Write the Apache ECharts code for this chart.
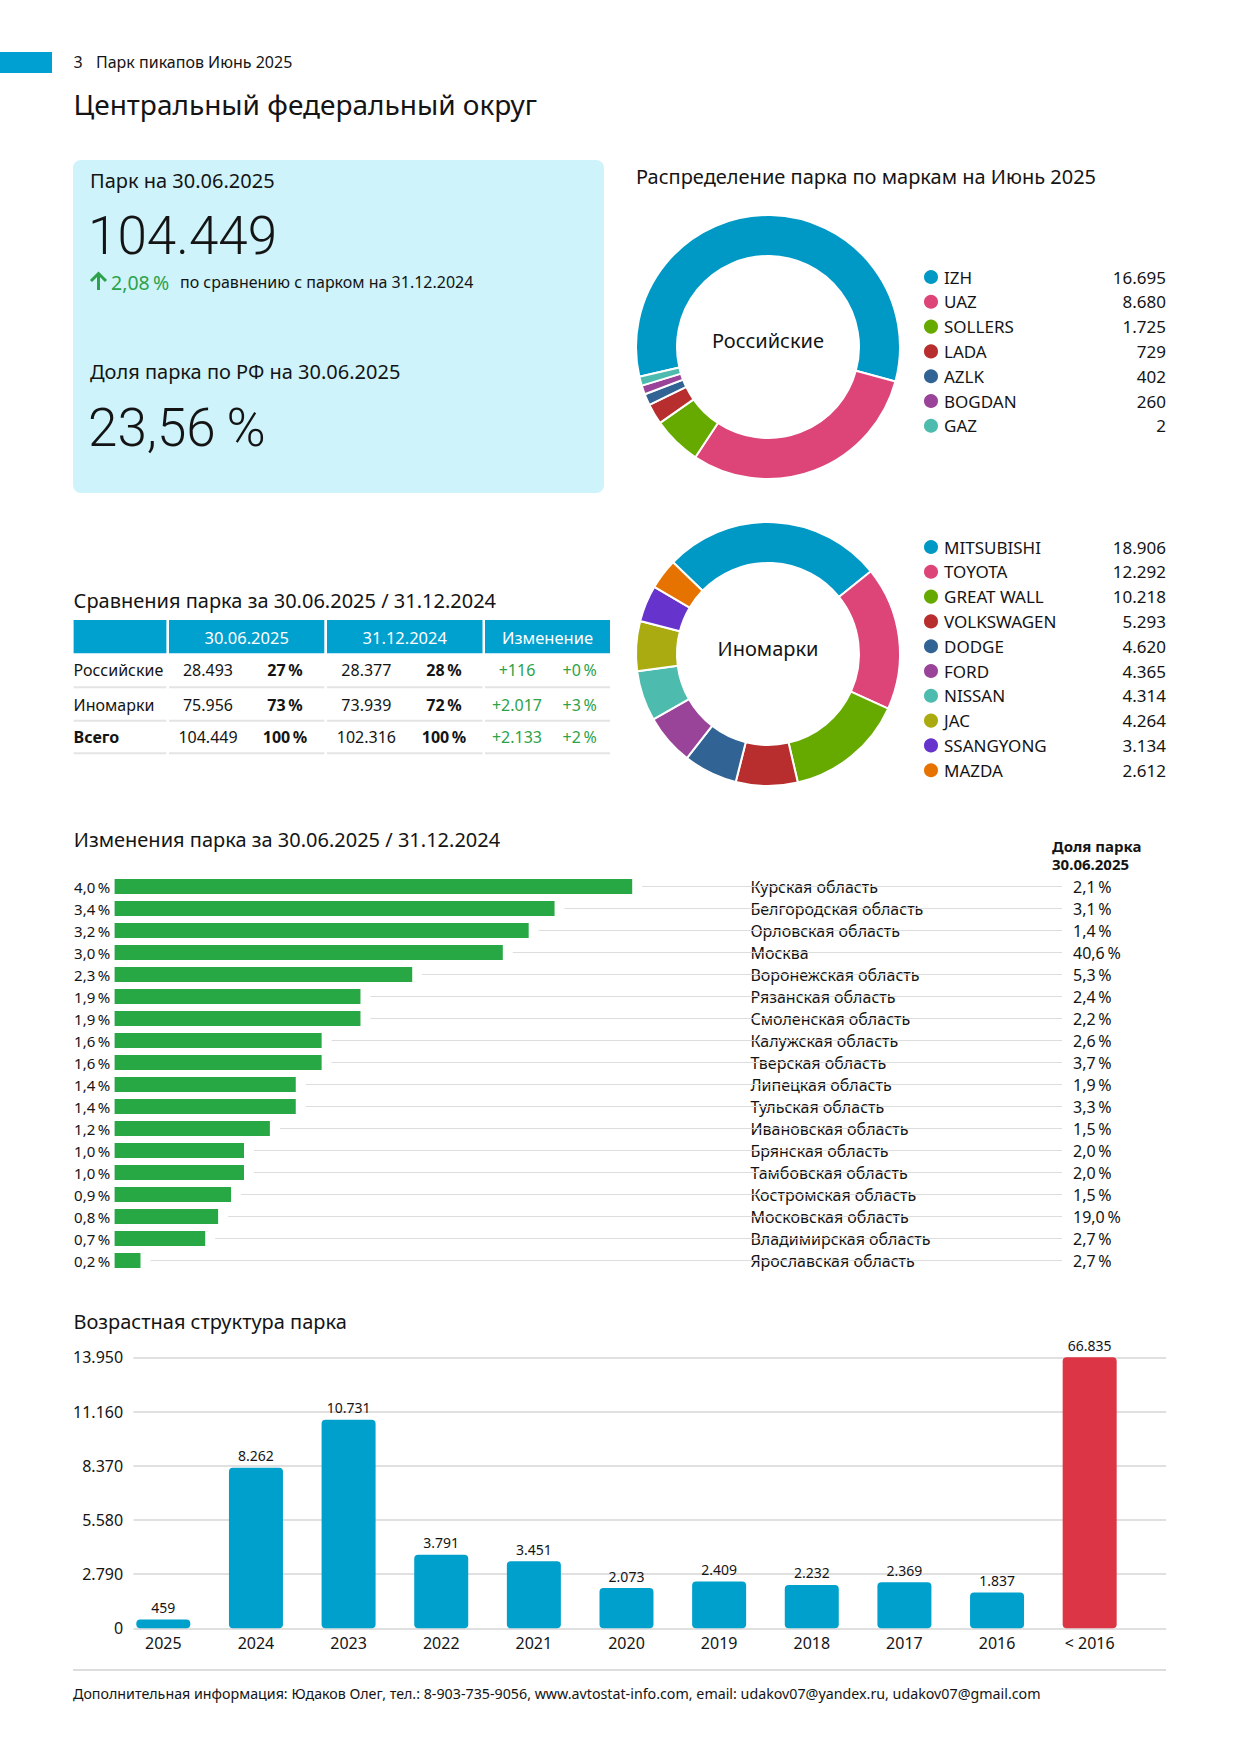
<!DOCTYPE html>
<html><head><meta charset="utf-8">
<script src="https://cdn.jsdelivr.net/npm/echarts@6/dist/echarts.min.js"></script>
<style>html,body{margin:0;padding:0;background:#fff}#c{width:1240px;height:1755px}</style>
</head><body><div id="c"></div>
<script>
// ---------------- DATA ----------------
const pageNo = '3';
const pageHeader = 'Парк пикапов Июнь 2025';
const pageTitle = 'Центральный федеральный округ';
const parkLabel = 'Парк на 30.06.2025';
const parkTotal = 104449;
const parkGrowthPct = 2.08;
const parkGrowthText = 'по сравнению с парком на 31.12.2024';
const rfShareLabel = 'Доля парка по РФ на 30.06.2025';
const rfSharePct = 23.56;

const brandTitle = 'Распределение парка по маркам на Июнь 2025';
const ruGroupName = 'Российские';
const ruBrands = ['IZH', 'UAZ', 'SOLLERS', 'LADA', 'AZLK', 'BOGDAN', 'GAZ'];
const ruValues = [16695, 8680, 1725, 729, 402, 260, 2];
const foreignGroupName = 'Иномарки';
const foreignBrands = ['MITSUBISHI', 'TOYOTA', 'GREAT WALL', 'VOLKSWAGEN', 'DODGE', 'FORD', 'NISSAN', 'JAC', 'SSANGYONG', 'MAZDA'];
const foreignValues = [18906, 12292, 10218, 5293, 4620, 4365, 4314, 4264, 3134, 2612];

const tableTitle = 'Сравнения парка за 30.06.2025 / 31.12.2024';
const tableHeaders = ['30.06.2025', '31.12.2024', 'Изменение'];
const tableRows = ['Российские', 'Иномарки', 'Всего'];
const park2025 = [28493, 75956, 104449];
const share2025 = [27, 73, 100];
const park2024 = [28377, 73939, 102316];
const share2024 = [28, 72, 100];
const diffAbs = [116, 2017, 2133];
const diffPct = [0, 3, 2];

const changeTitle = 'Изменения парка за 30.06.2025 / 31.12.2024';
const shareHeader = ['Доля парка', '30.06.2025'];
const regions = ['Курская область', 'Белгородская область', 'Орловская область', 'Москва', 'Воронежская область', 'Рязанская область', 'Смоленская область', 'Калужская область', 'Тверская область', 'Липецкая область', 'Тульская область', 'Ивановская область', 'Брянская область', 'Тамбовская область', 'Костромская область', 'Московская область', 'Владимирская область', 'Ярославская область'];
const regionChange = [4.0, 3.4, 3.2, 3.0, 2.3, 1.9, 1.9, 1.6, 1.6, 1.4, 1.4, 1.2, 1.0, 1.0, 0.9, 0.8, 0.7, 0.2];
const regionShare = [2.1, 3.1, 1.4, 40.6, 5.3, 2.4, 2.2, 2.6, 3.7, 1.9, 3.3, 1.5, 2.0, 2.0, 1.5, 19.0, 2.7, 2.7];

const ageTitle = 'Возрастная структура парка';
const ageYears = ['2025', '2024', '2023', '2022', '2021', '2020', '2019', '2018', '2017', '2016', '< 2016'];
const ageValues = [459, 8262, 10731, 3791, 3451, 2073, 2409, 2232, 2369, 1837, 66835];
const ageAxisMax = 13950;
const ageAxisStep = 2790;

const footerText = 'Дополнительная информация: Юдаков Олег, тел.: 8-903-735-9056, www.avtostat-info.com, email: udakov07@yandex.ru, udakov07@gmail.com';

// ---------------- HELPERS ----------------
const FONT = "'Noto Sans', 'DejaVu Sans', sans-serif";
const LIGHT = "Roboto, 'Open Sans', sans-serif";
const INK = '#141414';
const GREEN = '#2ca24a';
const BLUE = '#00a0cf';
const palette = ['#0099c6', '#dd4477', '#66aa00', '#b82e2e', '#316395', '#994499', '#4dbbad', '#aaaa11', '#6633cc', '#e67300'];
const fmtInt = n => String(n).replace(/\B(?=(\d{3})+(?!\d))/g, '.');
const fmtDec = (v, d) => v.toFixed(d).replace('.', ',');
const PCT = '\u2009%';

function T(text, x, y, size, o) {
  o = o || {};
  return {
    type: 'text', x: x, y: y, silent: true, z: 10,
    style: {
      text: text, fill: o.fill || INK, fontSize: size,
      fontFamily: o.family || FONT, fontWeight: o.weight || 'normal',
      textAlign: o.align || 'left', align: o.align || 'left',
      textVerticalAlign: 'middle', verticalAlign: 'middle'
    }
  };
}

const g = [];
// header
g.push({ type: 'rect', shape: { x: 0, y: 52, width: 52, height: 21 }, style: { fill: '#00a0d2' } });
g.push(T(pageNo, 73.5, 62, 16));
g.push(T(pageHeader, 96, 62, 16));
g.push(T(pageTitle, 73.5, 104, 28));

// KPI box
g.push({ type: 'rect', shape: { x: 73, y: 160, width: 531, height: 333, r: 8 }, style: { fill: '#cef3fb' } });
g.push(T(parkLabel, 90, 180, 20));
g.push(T(fmtInt(parkTotal), 88, 236, 53, { family: LIGHT, weight: 300 }));
// growth arrow (shape)
g.push({ type: 'polyline', shape: { points: [[91, 281], [98.5, 273.5], [106, 281]] }, style: { stroke: GREEN, lineWidth: 3, fill: null }, silent: true });
g.push({ type: 'line', shape: { x1: 98.5, y1: 275, x2: 98.5, y2: 290 }, style: { stroke: GREEN, lineWidth: 3 }, silent: true });
g.push(T(fmtDec(parkGrowthPct, 2) + PCT, 111, 282, 19.5, { fill: GREEN }));
g.push(T(parkGrowthText, 180, 282, 16));
g.push(T(rfShareLabel, 90, 371, 20));
g.push(T(fmtDec(rfSharePct, 2) + PCT, 88, 428, 53, { family: LIGHT, weight: 300 }));

// brand distribution
g.push(T(brandTitle, 636, 176, 20));
g.push(T(ruGroupName, 768, 340, 20, { align: 'center' }));
g.push(T(foreignGroupName, 768, 648, 20, { align: 'center' }));

// table
g.push(T(tableTitle, 73.6, 600, 20));
const colSpans = [[73.6, 166.4], [169, 324.3], [327, 482.5], [485, 610]];
colSpans.forEach((c, i) => {
  g.push({ type: 'rect', shape: { x: c[0], y: 620, width: c[1] - c[0], height: 33.3 }, style: { fill: BLUE } });
  if (i > 0) g.push(T(tableHeaders[i - 1], (c[0] + c[1]) / 2, 637, 16.5, { fill: '#fff', align: 'center' }));
});
const rowY = [670, 705, 737];
const lineY = [687.3, 720.7, 753.3];
const valX = [208, 285, 366.4, 444, 517, 579.6];
tableRows.forEach((name, i) => {
  const bold = i === tableRows.length - 1;
  g.push(T(name, 73.6, rowY[i], 16, { weight: bold ? 'bold' : 'normal' }));
  const vals = [fmtInt(park2025[i]), share2025[i] + PCT, fmtInt(park2024[i]), share2024[i] + PCT,
    '+' + fmtInt(diffAbs[i]), '+' + diffPct[i] + PCT];
  vals.forEach((v, j) => {
    const o = { align: 'center' };
    if (j === 1 || j === 3) o.weight = 'bold';
    if (j >= 4) o.fill = GREEN;
    g.push(T(v, valX[j], rowY[i], 16, o));
  });
  colSpans.forEach(c => g.push({ type: 'line', shape: { x1: c[0], y1: lineY[i], x2: c[1], y2: lineY[i] }, style: { stroke: '#e4e4e4', lineWidth: 2 } }));
});

// change chart headers
g.push(T(changeTitle, 73.8, 839, 20));
g.push(T(shareHeader[0], 1052, 846, 15, { weight: 'bold' }));
g.push(T(shareHeader[1], 1052, 863.5, 15, { weight: 'bold' }));

// age chart
g.push(T(ageTitle, 73.4, 1321, 20));

// footer
g.push({ type: 'line', shape: { x1: 73, y1: 1670, x2: 1166, y2: 1670 }, style: { stroke: '#d2d2d2', lineWidth: 1.5 } });
g.push(T(footerText, 73, 1693, 14.25));

// ---------------- CHART ----------------
const chart = echarts.init(document.getElementById('c'), null, { renderer: 'svg', width: 1240, height: 1755 });
const CH_MAX = (1062 - 114.6) / 129.4;

function legendFor(names, values, top) {
  return {
    orient: 'vertical', left: 922, top: top, padding: 0, itemWidth: 16, itemHeight: 16, itemGap: 6.8,
    icon: 'circle', data: names, selectedMode: false,
    formatter: name => '{n|' + name + '}{v|' + fmtInt(values[names.indexOf(name)]) + '}',
    textStyle: {
      color: INK, fontFamily: FONT, fontSize: 17, lineHeight: 16,
      rich: {
        n: { width: 152, fontSize: 17, fontFamily: FONT, color: INK, lineHeight: 16 },
        v: { width: 70, align: 'right', fontSize: 17, fontFamily: FONT, color: INK, lineHeight: 16 }
      }
    }
  };
}

const option = {
  animation: false,
  backgroundColor: '#fff',
  textStyle: { fontFamily: FONT },
  graphic: { elements: g },
  legend: [legendFor(ruBrands, ruValues, 268), legendFor(foreignBrands, foreignValues, 538)],
  grid: [
    { left: 114.6, top: 875.5, width: 1062 - 114.6, height: 396 },
    { left: 117, top: 1357.3, width: 1019, height: 271 },
    { left: 133.5, top: 1357.3, width: 1032.7, height: 271 }
  ],
  xAxis: [
    { gridIndex: 0, type: 'value', min: 0, max: CH_MAX, show: false },
    {
      gridIndex: 1, type: 'category', data: ageYears,
      axisLine: { show: false }, axisTick: { show: false },
      axisLabel: { fontSize: 16, color: INK, margin: 7, fontFamily: FONT, interval: 0 }
    },
    { gridIndex: 2, type: 'value', show: false }
  ],
  yAxis: [
    {
      gridIndex: 0, type: 'category', data: regions, inverse: true,
      axisLine: { show: false }, axisTick: { show: false },
      axisLabel: { fontSize: 15, color: INK, margin: 4.4, fontFamily: FONT, interval: 0,
        formatter: (v, i) => fmtDec(regionChange[i], 1) + PCT }
    },
    {
      gridIndex: 0, type: 'category', data: regions, inverse: true, position: 'right',
      axisLine: { show: false }, axisTick: { show: false },
      axisLabel: { fontSize: 16, color: INK, margin: 750.4 - 1062, align: 'left', fontFamily: FONT, interval: 0 }
    },
    {
      gridIndex: 0, type: 'category', data: regions, inverse: true, position: 'right',
      axisLine: { show: false }, axisTick: { show: false },
      axisLabel: { fontSize: 16, color: INK, margin: 11, align: 'left', fontFamily: FONT, interval: 0,
        formatter: (v, i) => fmtDec(regionShare[i], 1) + PCT }
    },
    { gridIndex: 1, type: 'value', min: 0, max: ageAxisMax, interval: ageAxisStep, show: false, splitLine: { show: false } },
    {
      gridIndex: 2, type: 'value', min: 0, max: ageAxisMax, interval: ageAxisStep,
      axisLine: { show: false }, axisTick: { show: false },
      axisLabel: { fontSize: 16, color: INK, margin: 10.4, fontFamily: FONT, formatter: v => fmtInt(v) },
      splitLine: { lineStyle: { color: '#d6d6d6', width: 1.5 } }
    }
  ],
  series: [
    {
      type: 'pie', name: ruGroupName, center: [768, 347], radius: [91, 132], startAngle: 193, minAngle: 4,
      clockwise: true, label: { show: false }, labelLine: { show: false }, silent: true,
      itemStyle: { borderColor: '#fff', borderWidth: 2 },
      data: ruBrands.map((n, i) => ({ name: n, value: ruValues[i], itemStyle: { color: palette[i] } }))
    },
    {
      type: 'pie', name: foreignGroupName, center: [768, 654], radius: [91, 132], startAngle: 136,
      clockwise: true, label: { show: false }, labelLine: { show: false }, silent: true,
      itemStyle: { borderColor: '#fff', borderWidth: 2 },
      data: foreignBrands.map((n, i) => ({ name: n, value: foreignValues[i], itemStyle: { color: palette[i] } }))
    },
    {
      type: 'custom', xAxisIndex: 0, yAxisIndex: 0, silent: true, z: 1,
      data: regionChange.map((v, i) => [v, i]),
      renderItem: (params, api) => {
        const p0 = api.coord([api.value(0), api.value(1)]);
        const p1 = api.coord([CH_MAX, api.value(1)]);
        return { type: 'line', shape: { x1: p0[0] + 10, y1: p0[1], x2: p1[0], y2: p1[1] }, style: { stroke: '#dddddd', lineWidth: 1.2 } };
      }
    },
    {
      type: 'bar', xAxisIndex: 0, yAxisIndex: 0, data: regionChange, barWidth: 15, silent: true, z: 3,
      itemStyle: { color: '#28a745' }
    },
    {
      type: 'bar', xAxisIndex: 1, yAxisIndex: 3, barWidth: 54, silent: true,
      data: ageValues.map((v, i) => ({ value: v, itemStyle: { color: i === ageValues.length - 1 ? '#dc3545' : '#00a0cc' } })),
      itemStyle: { borderRadius: 4 },
      label: { show: true, position: 'top', distance: 5, fontSize: 14, color: INK, fontFamily: FONT, formatter: p => fmtInt(p.value) }
    }
  ]
};
chart.setOption(option);
</script>
</body></html>
